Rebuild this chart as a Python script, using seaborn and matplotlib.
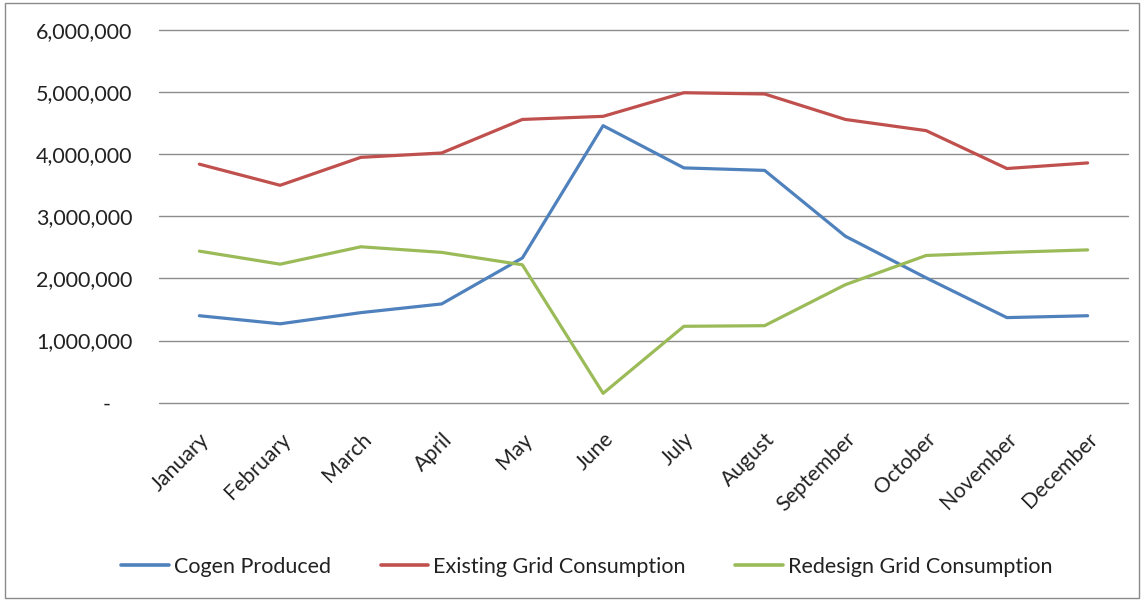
import matplotlib
matplotlib.use("Agg")
import matplotlib.pyplot as plt
from matplotlib.patches import Rectangle
from matplotlib.ticker import FuncFormatter
import pandas as pd
import seaborn as sns

months = ["January", "February", "March", "April", "May", "June", "July",
          "August", "September", "October", "November", "December"]
cogen_produced = [1400000, 1270000, 1450000, 1590000, 2330000, 4460000,
                  3780000, 3740000, 2680000, 2010000, 1370000, 1400000]
existing_grid = [3840000, 3500000, 3950000, 4020000, 4560000, 4610000,
                 4990000, 4970000, 4560000, 4380000, 3770000, 3860000]
redesign_grid = [2440000, 2230000, 2510000, 2420000, 2220000, 150000,
                 1230000, 1240000, 1900000, 2370000, 2420000, 2460000]
series_names = ["Cogen Produced", "Existing Grid Consumption", "Redesign Grid Consumption"]
colors = ["#4F81BD", "#C0504D", "#9BBB59"]

frames = []
for name, vals in zip(series_names, [cogen_produced, existing_grid, redesign_grid]):
    frames.append(pd.DataFrame({"month": months, "value": vals, "series": name}))
df = pd.concat(frames, ignore_index=True)

sns.set_theme(style="white")
plt.rcParams["font.family"] = ["Lato", "DejaVu Sans"]

fig = plt.figure(figsize=(11.44, 6.01), dpi=100)
ax = fig.add_axes([159 / 1144, 1 - 402.7 / 601, (1128 - 159) / 1144, (402.7 - 30) / 601])

sns.lineplot(data=df, x="month", y="value", hue="series", sort=False,
             palette=dict(zip(series_names, colors)), linewidth=2.3,
             ax=ax, legend=False, zorder=3)

ax.set_xlim(-0.5, len(months) - 0.5)
ax.set_ylim(0, 6000000)
ax.set_yticks(range(0, 6000001, 1000000))


def fmt(v, _):
    return "-    " if v == 0 else f"{int(v):,}"


ax.yaxis.set_major_formatter(FuncFormatter(fmt))
ax.grid(axis="y", color="#8c8c8c", linewidth=1.0)
ax.grid(axis="x", visible=False)
for gl in ax.get_ygridlines():
    gl.set_clip_on(False)
for s in ax.spines.values():
    s.set_visible(False)
ax.set_xlabel("")
ax.set_ylabel("")
ax.tick_params(axis="y", length=0, pad=19, labelsize=15.5, labelcolor="#222222")
ax.tick_params(axis="x", length=0, pad=19, labelsize=15.3, labelcolor="#222222")
ax.set_xticks(range(len(months)))
ax.set_xticklabels(months, rotation=45, ha="right", rotation_mode="anchor")

handles = [plt.Line2D([], [], color=c, linewidth=2.6) for c in colors]
fig.legend(handles, series_names, loc="center", bbox_to_anchor=(0.513, 1 - 567 / 601),
           ncol=3, frameon=False, fontsize=15.5, handlelength=2.2,
           handletextpad=0.25, columnspacing=2.3, labelcolor="#222222")

fig.patches.append(Rectangle((5 / 1144, 3 / 601), 1134 / 1144, 595 / 601,
                             transform=fig.transFigure, fill=False,
                             edgecolor="#8a8a8a", linewidth=1.0))

fig.savefig("out.png", dpi=100)
